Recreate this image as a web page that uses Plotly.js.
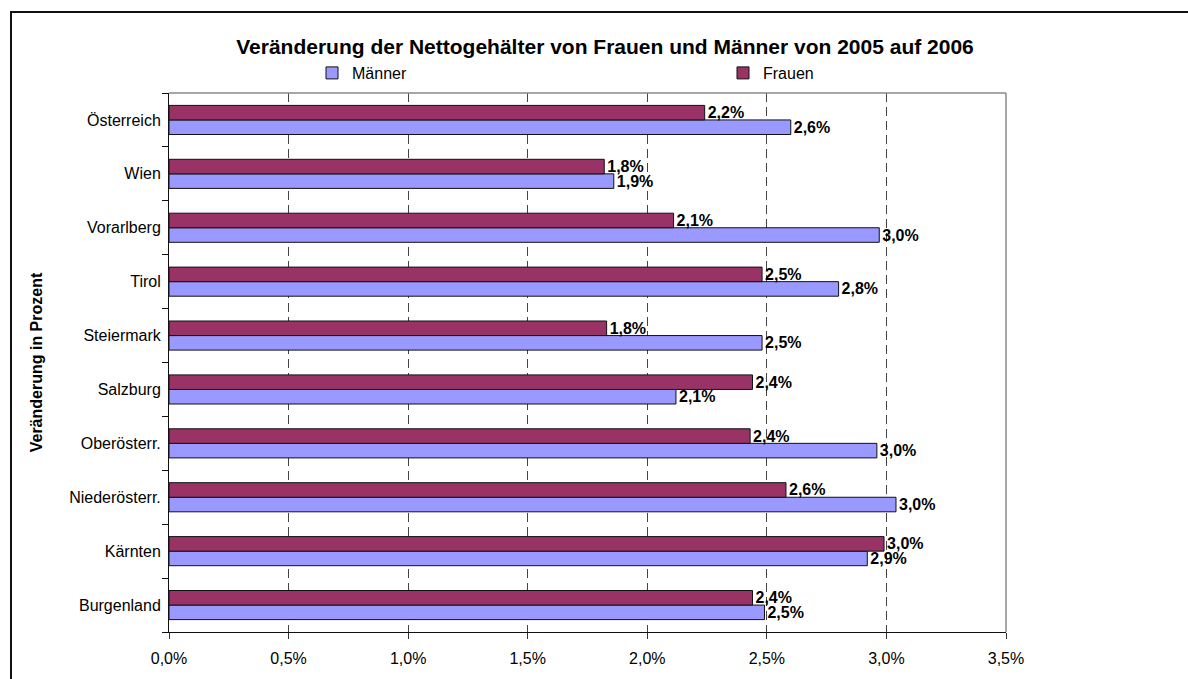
<!DOCTYPE html>
<html>
<head>
<meta charset="utf-8">
<script src="https://cdn.plot.ly/plotly-3.0.1.min.js"></script>
<style>
  html, body { margin: 0; padding: 0; background: #fff; overflow: hidden; }
  #chart { width: 1188px; height: 679px; }
  #frame { position: absolute; left: 10px; top: 11px; width: 1400px; height: 900px;
           border: 2px solid #111; pointer-events: none; }
</style>
</head>
<body>
<div id="chart"></div>
<div id="frame"></div>
<script>
// Categories listed bottom to top (as drawn on the category axis)
const regions = ['Burgenland', 'Kärnten', 'Niederösterr.', 'Oberösterr.', 'Salzburg',
                 'Steiermark', 'Tirol', 'Vorarlberg', 'Wien', 'Österreich'];
// Change of net salaries 2005 -> 2006, in percent
const maenner = [2.49, 2.92, 3.04, 2.96, 2.12, 2.48, 2.80, 2.97, 1.86, 2.60];
const frauen  = [2.44, 2.99, 2.58, 2.43, 2.44, 1.83, 2.48, 2.11, 1.82, 2.24];
const xTicks  = [0, 0.5, 1, 1.5, 2, 2.5, 3, 3.5];
const xTickLabels = ['0,0%', '0,5%', '1,0%', '1,5%', '2,0%', '2,5%', '3,0%', '3,5%'];

const FONT = 'Arial, "Liberation Sans", sans-serif';

const traces = [
  {
    type: 'bar', orientation: 'h', name: 'Männer',
    y: regions, x: maenner,
    marker: { color: '#9999FF', line: { color: '#111', width: 1 } },
    texttemplate: '%{x:.1f}%', textposition: 'outside',
    textfont: { family: FONT, size: 16, color: '#000', weight: 'bold' },
    cliponaxis: false, constraintext: 'none', hoverinfo: 'skip'
  },
  {
    type: 'bar', orientation: 'h', name: 'Frauen',
    y: regions, x: frauen,
    marker: { color: '#993366', line: { color: '#111', width: 1 } },
    texttemplate: '%{x:.1f}%', textposition: 'outside',
    textfont: { family: FONT, size: 16, color: '#000', weight: 'bold' },
    cliponaxis: false, constraintext: 'none', hoverinfo: 'skip'
  }
];

const layout = {
  width: 1188, height: 679,
  margin: { l: 169, r: 182, t: 93, b: 47 },
  paper_bgcolor: '#fff', plot_bgcolor: '#fff',
  separators: ',.',
  font: { family: FONT, size: 16, color: '#000' },
  title: {
    text: 'Veränderung der Nettogehälter von Frauen und Männer von 2005 auf 2006',
    font: { family: FONT, size: 21, color: '#000', weight: 'bold' },
    xref: 'container', x: 605 / 1188, xanchor: 'center',
    yref: 'container', y: 1 - 47 / 679, yanchor: 'middle'
  },
  showlegend: true,
  legend: {
    orientation: 'h', xref: 'container', yref: 'container',
    x: 312 / 1188, xanchor: 'left', y: 1 - 73 / 679, yanchor: 'middle',
    font: { family: FONT, size: 16, color: '#000' },
    entrywidth: 366, entrywidthmode: 'pixels',
    itemwidth: 30, traceorder: 'normal', bgcolor: 'rgba(0,0,0,0)'
  },
  barmode: 'group', bargap: 0.46, bargroupgap: 0,
  xaxis: {
    range: [0, 3.5], tickmode: 'array', tickvals: xTicks, ticktext: xTickLabels,
    showgrid: true, gridcolor: '#444', gridwidth: 1, griddash: '9px,5px',
    zeroline: false, showline: true, linecolor: '#111', linewidth: 1,
    ticks: 'outside', ticklen: 6, tickcolor: '#333', ticklabelstandoff: 6,
    tickfont: { family: FONT, size: 16, color: '#000' },
    fixedrange: true
  },
  yaxis: {
    type: 'category', range: [-0.5, 9.5],
    showgrid: false, zeroline: false, showline: true, linecolor: '#111', linewidth: 1,
    ticks: 'outside', tickson: 'boundaries', ticklen: 6, tickcolor: '#111',
    ticklabelstandoff: 4,
    tickfont: { family: FONT, size: 16, color: '#000' },
    title: { text: 'Veränderung in Prozent', standoff: 22,
             font: { family: FONT, size: 16, color: '#000', weight: 'bold' } },
    fixedrange: true
  },
  shapes: [
    { type: 'line', xref: 'paper', yref: 'paper', x0: 0, x1: 1, y0: 1, y1: 1,
      line: { color: '#888', width: 1.5 } },
    { type: 'line', xref: 'paper', yref: 'paper', x0: 1, x1: 1, y0: 0, y1: 1,
      line: { color: '#888', width: 1.5 } }
  ]
};

Plotly.newPlot('chart', traces, layout, { staticPlot: true, displayModeBar: false });
</script>
</body>
</html>
